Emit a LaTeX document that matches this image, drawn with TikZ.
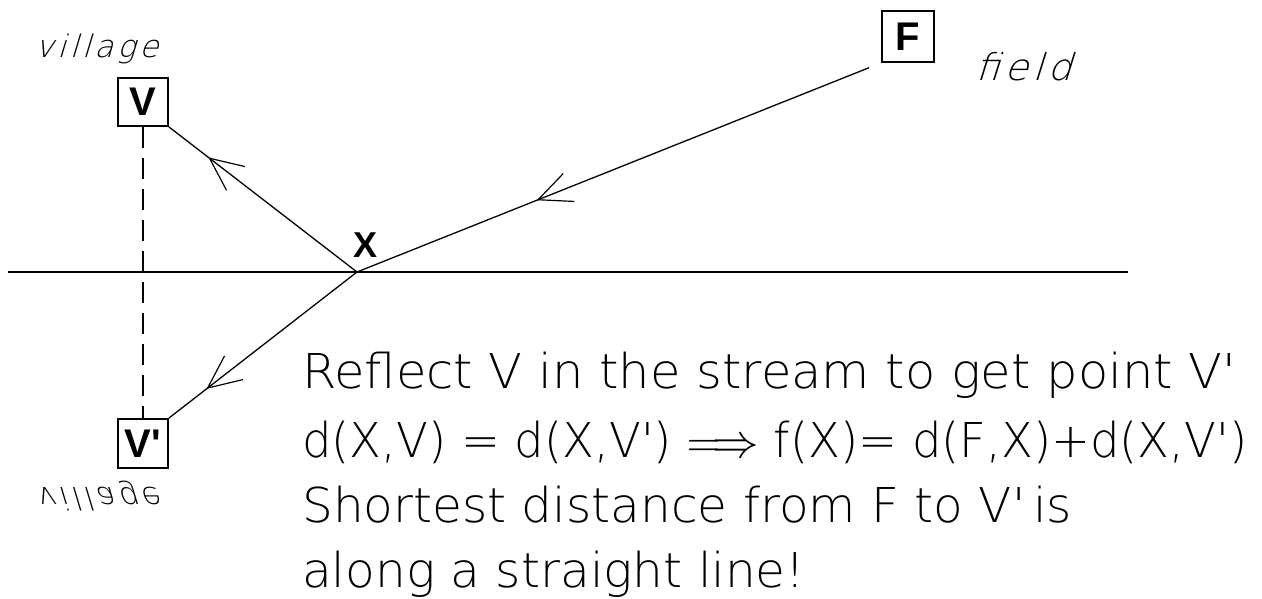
\documentclass[tikz,border=0pt]{standalone}
\usepackage{fix-cm}
\usepackage{fontspec}
\usepackage{graphicx}
\usetikzlibrary{arrows.meta,decorations.markings,calc}
\newfontfamily\thinf{DejaVu Sans ExtraLight}
\newfontfamily\lblf[FakeSlant=0.3,LetterSpace=12]{DejaVu Sans ExtraLight}
\newfontfamily\boldf{Liberation Sans}
\begin{document}
\begin{tikzpicture}[x=1pt,y=-1pt,
  box/.style={draw, line width=1.8pt, inner sep=0pt, font=\fontsize{40}{40}\selectfont\boldf\bfseries},
  ln/.style={line width=1.3pt},
  midarrow/.style={postaction={decorate,decoration={markings,mark=at position #1 with {\arrow{Straight Barb[length=33pt,width=30pt,line width=1.2pt]}}}}},
  txt/.style={anchor=base west, inner sep=0pt, font=\fontsize{48}{50}\selectfont\thinf},
  lbl/.style={anchor=base west, inner sep=0pt}]
\useasboundingbox (0,0) rectangle (1262,598);
% boxes
\node[box, minimum width=50pt, minimum height=48pt] (V) at (143,102) {V};
\node[box, minimum width=52pt, minimum height=51pt] (F) at (908,36.5) {F};
\node[box, minimum width=50pt, minimum height=49pt] (Vp) at (143,443.5) {V\textquotesingle};
% stream
\coordinate (sL) at (8,272);
\coordinate (sR) at (1128,272);
\draw[ln] (sL) -- (sR);
% point X
\coordinate (X) at (357,272);
\node[inner sep=0pt, font=\fontsize{36}{36}\selectfont\boldf\bfseries] (Xl) at (366,245) {X};
% connectors
\coordinate (Fe) at ($(F.south west)!13pt!(X)$);
\draw[ln, dash pattern=on 21pt off 10pt] (V.south) -- (Vp.north);
\draw[ln, midarrow=0.649] (Fe) -- (X);
\draw[ln, midarrow=0.79] (X) -- (V.south east);
\draw[ln, midarrow=0.80] (X) -- (Vp.north east);
% labels
\node[lbl] (vl) at (35,57) {\resizebox{123pt}{\height}{\fontsize{31}{31}\selectfont\lblf village}};
\node[lbl] (fl) at (975,80) {\resizebox{97pt}{\height}{\fontsize{37}{37}\selectfont\lblf field}};
\node[lbl] (vm) at (35,487) {\scalebox{1}[-1]{\resizebox{123pt}{\height}{\fontsize{31}{31}\selectfont\lblf village}}};
% text
\node[txt] (t1) at (302,388) {\resizebox{934pt}{\height}{Reflect V in the stream to get point V\textquotesingle}};
\node[txt] (t2) at (302,457) {\resizebox{945pt}{\height}{d(X,V) = d(X,V\textquotesingle) $\Longrightarrow$ f(X)= d(F,X)+d(X,V\textquotesingle)}};
\node[txt] (t3) at (302,522) {\resizebox{770pt}{\height}{Shortest distance from F to V\textquotesingle\,is}};
\node[txt] (t4) at (302,587) {\resizebox{503pt}{\height}{along a straight line!}};
\end{tikzpicture}
\end{document}
